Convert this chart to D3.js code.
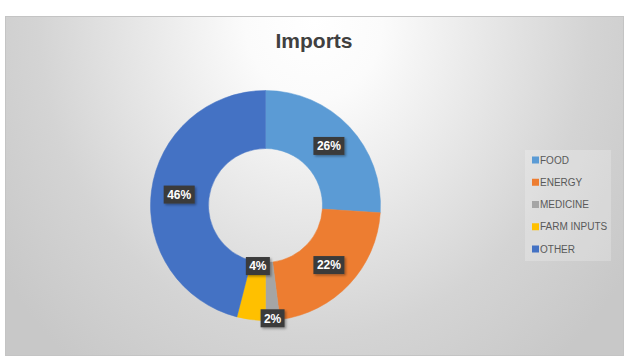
<!DOCTYPE html>
<html>
<head>
<meta charset="utf-8">
<script src="https://cdn.jsdelivr.net/npm/d3@7"></script>
<style>
  body { margin: 0; background: #fff; }
  svg { display: block; font-family: "Liberation Sans", Arial, sans-serif; }
</style>
</head>
<body>
<svg id="chart" width="633" height="363"></svg>
<script>
// chart data
var categories = ["FOOD", "ENERGY", "MEDICINE", "FARM INPUTS", "OTHER"];
var shares = [26, 22, 2, 4, 46];
var colors = ["#5b9bd5", "#ed7d31", "#a5a5a5", "#ffc000", "#4472c4"];
var title = "Imports";

var width = 633, height = 363;
var frame = {x: 5, y: 16, w: 618, h: 339};
var cx = 265.5, cy = 205.5, outerR = 115, innerR = 57;

var svg = d3.select("#chart");
var defs = svg.append("defs");

// soft radial background like the office chart style
var grad = defs.append("radialGradient")
    .attr("id", "bg")
    .attr("gradientUnits", "userSpaceOnUse")
    .attr("cx", 314).attr("cy", 20).attr("r", 440)
    .attr("gradientTransform", "translate(314,20) scale(0.87,1) translate(-314,-20)");
grad.append("stop").attr("offset", 0).attr("stop-color", "#ffffff");
grad.append("stop").attr("offset", 0.18).attr("stop-color", "#fbfbfb");
grad.append("stop").attr("offset", 0.72).attr("stop-color", "#d4d4d4");
grad.append("stop").attr("offset", 1).attr("stop-color", "#c8c8c8");

var shadow = defs.append("filter").attr("id", "shadow")
    .attr("x", "-20%").attr("y", "-20%").attr("width", "150%").attr("height", "160%");
shadow.append("feDropShadow")
    .attr("dx", 1.5).attr("dy", 1.5).attr("stdDeviation", 1)
    .attr("flood-color", "#000").attr("flood-opacity", 0.35);

svg.append("rect")
    .attr("x", frame.x + 0.5).attr("y", frame.y + 0.5)
    .attr("width", frame.w).attr("height", frame.h)
    .attr("fill", "url(#bg)")
    .attr("stroke", "#c4c4c4");

svg.append("text")
    .attr("x", 314).attr("y", 48)
    .attr("text-anchor", "middle")
    .attr("font-size", 21).attr("font-weight", "bold")
    .attr("fill", "#404040")
    .text(title);

var pie = d3.pie().sort(null).value(function(d) { return d; });
var arcs = pie(shares);
var arc = d3.arc().innerRadius(innerR).outerRadius(outerR);

var g = svg.append("g").attr("transform", "translate(" + cx + "," + cy + ")");

g.selectAll("path.slice")
    .data(arcs)
    .enter().append("path")
    .attr("class", "slice")
    .attr("d", arc)
    .attr("fill", function(d, i) { return colors[i]; })
    .attr("stroke", function(d, i) { return colors[i]; })
    .attr("stroke-width", 0.5);

// thin slices get their label pushed to the ring's edges
function labelPos(d) {
    var a = (d.startAngle + d.endAngle) / 2;
    var r = (innerR + outerR) / 2 + 1;
    if (d.data < 3) r = outerR - 2;
    else if (d.data < 5) r = innerR + 4;
    return [Math.sin(a) * r, -Math.cos(a) * r];
}

var labels = g.selectAll("g.label")
    .data(arcs)
    .enter().append("g")
    .attr("class", "label")
    .attr("transform", function(d) { return "translate(" + labelPos(d) + ")"; });

labels.append("rect")
    .attr("x", function(d) { return d.data >= 10 ? -15.5 : -12; })
    .attr("y", -9)
    .attr("width", function(d) { return d.data >= 10 ? 31 : 24; })
    .attr("height", 18)
    .attr("fill", "#3b3b3b")
    .attr("filter", "url(#shadow)");

labels.append("text")
    .attr("text-anchor", "middle")
    .attr("dy", "0.36em")
    .attr("font-size", 12).attr("font-weight", "bold")
    .attr("fill", "#ffffff")
    .text(function(d) { return d.data + "%"; });

// legend
var legendY = d3.scalePoint().domain(categories).range([160, 249]);

svg.append("rect")
    .attr("x", 525).attr("y", 150)
    .attr("width", 86).attr("height", 111)
    .attr("fill", "#ffffff").attr("fill-opacity", 0.22);

var items = svg.selectAll("g.legend")
    .data(categories)
    .enter().append("g")
    .attr("class", "legend")
    .attr("transform", function(d) { return "translate(532," + legendY(d) + ")"; });

items.append("rect")
    .attr("x", 0).attr("y", -3.5)
    .attr("width", 7).attr("height", 7)
    .attr("fill", function(d, i) { return colors[i]; });

items.append("text")
    .attr("x", 8).attr("dy", "0.36em")
    .attr("font-size", 10)
    .attr("fill", "#595959")
    .text(function(d) { return d; });
</script>
</body>
</html>
